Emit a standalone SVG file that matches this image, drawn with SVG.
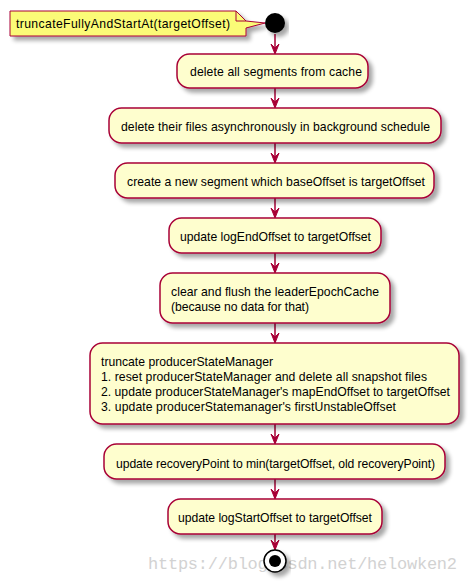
<svg xmlns="http://www.w3.org/2000/svg" width="469" height="584" viewBox="0 0 469 584">
<style>
.box{fill:#FEFECE;stroke:#A80036;stroke-width:1.5;filter:url(#sh)}
.t{font-family:"Liberation Sans",Arial,sans-serif;font-size:12.2px;fill:#000}
.c{stroke:#A80036;stroke-width:1.5;fill:none}
.ah{fill:#A80036;stroke:#A80036;stroke-width:1}
.wm{font-family:"Liberation Mono","DejaVu Sans Mono",monospace;font-size:17px;fill:#d2d2d2}
</style>
<defs>
<filter id="sh" x="-10%" y="-20%" width="130%" height="160%">
<feGaussianBlur in="SourceAlpha" stdDeviation="2"/>
<feOffset dx="4" dy="4" result="b"/>
<feComponentTransfer><feFuncA type="linear" slope="0.35"/></feComponentTransfer>
<feMerge><feMergeNode/><feMergeNode in="SourceGraphic"/></feMerge>
</filter>
</defs>
<rect width="469" height="584" fill="#fff"/>
<g id="connectors">
<path class="c" d="M275,34 V53"/><polygon class="ah" points="271,44 275,54 279,44 275,48"/>
<path class="c" d="M275,88 V107"/><polygon class="ah" points="271,98 275,108 279,98 275,102"/>
<path class="c" d="M275,143 V162"/><polygon class="ah" points="271,153 275,163 279,153 275,157"/>
<path class="c" d="M275,198 V217"/><polygon class="ah" points="271,208 275,218 279,208 275,212"/>
<path class="c" d="M275,253 V272"/><polygon class="ah" points="271,263 275,273 279,263 275,267"/>
<path class="c" d="M275,323 V342"/><polygon class="ah" points="271,333 275,343 279,333 275,337"/>
<path class="c" d="M275,424 V443"/><polygon class="ah" points="271,434 275,444 279,434 275,438"/>
<path class="c" d="M275,479 V498"/><polygon class="ah" points="271,489 275,499 279,489 275,493"/>
<path class="c" d="M275,534 V549"/><polygon class="ah" points="271,540 275,550 279,540 275,544"/>
</g>
<g id="note">
<path d="M10,11 H236 L246,21 L265,23 L246,28 V36 H10 Z" fill="#FBFB77" stroke="#A80036" stroke-width="1" filter="url(#sh)"/>
<path d="M236,11 V21 H246" fill="none" stroke="#A80036" stroke-width="1"/>
<text class="t" x="16" y="28" textLength="214">truncateFullyAndStartAt(targetOffset)</text>
</g>
<g id="start"><circle cx="275" cy="23" r="10" fill="#000" filter="url(#sh)"/></g>
<g id="n1"><rect class="box" x="177" y="54" width="191" height="34" rx="12.5"/><text class="t" x="190" y="76" textLength="172">delete all segments from cache</text></g>
<g id="n2"><rect class="box" x="109" y="108" width="332" height="35" rx="12.5"/><text class="t" x="121" y="131" textLength="309">delete their files asynchronously in background schedule</text></g>
<g id="n3"><rect class="box" x="115" y="163" width="319" height="35" rx="12.5"/><text class="t" x="127" y="186" textLength="298">create a new segment which baseOffset is targetOffset</text></g>
<g id="n4"><rect class="box" x="169" y="218" width="212" height="35" rx="12.5"/><text class="t" x="180" y="241" textLength="191">update logEndOffset to targetOffset</text></g>
<g id="n5"><rect class="box" x="160" y="273" width="230" height="50" rx="12.5"/><text class="t" x="171" y="296" textLength="208">clear and flush the leaderEpochCache</text><text class="t" x="171" y="311" textLength="138">(because no data for that)</text></g>
<g id="n6"><rect class="box" x="90" y="343" width="369" height="81" rx="12.5"/><text class="t" x="101" y="366" textLength="172">truncate producerStateManager</text><text class="t" x="101" y="381" textLength="326">1. reset producerStateManager and delete all snapshot files</text><text class="t" x="101" y="396" textLength="349">2. update producerStateManager's mapEndOffset to targetOffset</text><text class="t" x="101" y="411" textLength="295">3. update producerStatemanager's firstUnstableOffset</text></g>
<g id="n7"><rect class="box" x="104" y="444" width="341" height="35" rx="12.5"/><text class="t" x="116" y="467.5" textLength="319">update recoveryPoint to min(targetOffset, old recoveryPoint)</text></g>
<g id="n8"><rect class="box" x="168" y="499" width="214" height="35" rx="12.5"/><text class="t" x="178" y="522" textLength="194">update logStartOffset to targetOffset</text></g>
<text class="wm" x="148" y="569" textLength="309">https://blog.csdn.net/helowken2</text>
<g id="end"><circle cx="275" cy="561" r="11" fill="#fff" stroke="#000" stroke-width="1.5" filter="url(#sh)"/><circle cx="275" cy="561" r="6" fill="#000"/></g>
</svg>
